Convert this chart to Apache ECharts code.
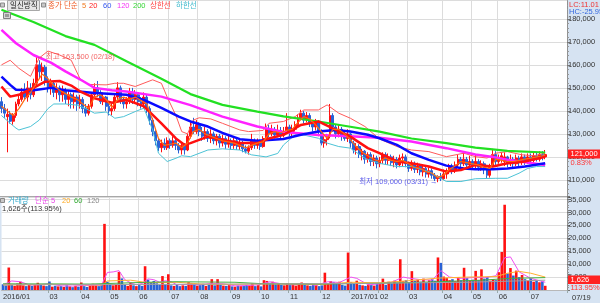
<!DOCTYPE html>
<html><head><meta charset="utf-8">
<script src="https://cdn.jsdelivr.net/npm/echarts@6/dist/echarts.min.js"></script>
<style>html,body{margin:0;padding:0;background:#d6e3f2;overflow:hidden}#c{width:600px;height:303px}</style>
</head><body><div id="c"></div>
<script>
// ---- categories (each slot = about two trading days) ----
const monthNames = ['2016/01','2016/02','2016/03','2016/04','2016/05','2016/06','2016/07','2016/08','2016/09','2016/10','2016/11','2016/12','2017/01','2017/02','2017/03','2017/04','2017/05','2017/06','2017/07'];
const monthTickLabels = ['2016/01','','03','04','05','06','07','08','09','10','11','12','2017/01','02','03','04','05','06','07'];
const monthSlots = [7,9,11,10,10,11,10,11,10,10,11,10,10,10,12,10,9,11,13];

// ---- price (thousand won) ----
const openP = [144,141,137.5,138.5,135.5,138,143,145,148,146, 150,147,152,160,157,159,153,150,152,148,
150,147,149,145,147,144,146,143,145,141, 139,142,147,150,148,144,146,142,140,141,
146,150,145,143,144,148,145,147,144,143, 146,141,136,131,127,124,126,124,127,125,
127,125,123,125,123,129,133,131,134,131, 129,131,128,130,127,129,126,128,125.5,127,
125,127,124.5,126,123.5,122.5,124,127,125,126.5, 124.5,128,132,130,132,129.5,131.5,129.5,131,133,
130.5,132,134,137,139,136,138,135,133,135, 131,126,127.5,129,138,133,130,132,129,128,
130,126,123,124.5,121,122.5,119,121,118,119.5, 117,118.5,121,118.5,120,117.5,119,116.5,119.5,120,
117,115,117,114.5,116,113.5,115,112.5,114,112, 110.5,111.5,110.5,112.5,114,116,114,116.5,119,117,
119,116.5,118,116,118,115.5,117,114.5,112,116, 121,118,119,118,120,117,119,117,119.5,117.5,
120,118,120,118.5,120.5,119,121,120];
const closeP = [141,139,138.5,135.5,138,143,145,148,146,150, 147,152,160,157,159,153,150,152,148,150,
147,149,145,147,144,146,143,145,141,139, 142,147,150,148,144,146,142,140,141,146,
150,145,143,144,148,145,147,144,143,146, 141,136,131,127,124,126,124,127,125,127,
125,123,125,123,129,133,131,134,131,129, 131,128,130,127,129,126,128,125.5,127,125,
127,124.5,126,123.5,122.5,124,127,125,126.5,124.5, 128,132,130,132,129.5,131.5,129.5,131,133,130.5,
132,134,137,139,136,138,135,133,135,131, 126,127.5,129,138,133,130,132,129,128,130,
126,123,124.5,121,122.5,119,121,118,119.5,117, 118.5,121,118.5,120,117.5,119,116.5,119.5,120,117,
115,117,114.5,116,113.5,115,112.5,114,112,110.5, 111.5,110.5,112.5,114,116,114,116.5,119,117,119,
116.5,118,116,118,115.5,117,114.5,112,116,121, 118,119,120.5,120,117,119,117,119.5,117.5,120,
118,120,118.5,120.5,119,121,120,121];
const highP = [146,143,141,140,139,144,147,150,152,153, 152,154,163.5,162,161,160,155,154,153,152,
151,151,150,149,148,148,147,147,146,143, 143,148,152,153,149,148,146.5,143.5,143,147,
152.5,151,146,146,150,150,149,148,146,148, 147,142,137,132,128,127.5,128,128.5,128,129,
128,126,126,126,130,135,137,136,135,133, 133,132,132,131,130,130,129.5,129,130,128,
129,128,128,127,125,125,130,128,128,127.5, 129,134.5,134,134,133,134,133,133,139,134,
134,135.5,138.5,140.5,140,139.5,139,136,136.5,136, 132,129,130,143,139,134,134,133,131,132,
130.5,127,126,125.5,123.5,123,122,122,121,120.5, 120,122,122,121.5,121,120.5,120,121,121.5,121,
118,118.5,118,117.5,117,116.5,116,115.5,115,113, 112,113,114.5,115,117,117,118,121,120,122,
120,120.5,119,121,119,118.5,118,115,117,123.5, 122.5,121,122,122,120.5,121,120,121,120.5,121.5,
121,121.5,121.5,122,122,122.5,122.5,123];
const lowP = [139,137,122,134.5,134,137,142,144,145,144, 145,146,151,154,153,151,148,147,146,145,
144,144,143,142,141,141,140,141,139,137.5, 138,141,146,146,143,142.5,140,138,138,140,
145,143,141,141,143,143,143,142,141,141, 139,134,129,125,122.5,122,123,123,123.5,124,
123,121.5,121,121,122.5,128,130,130,129,127, 127.5,126.5,126,125.5,125,124,124.5,123.5,124,123,
123.5,123,123,122,121.5,121,123,123.5,123.5,123, 124,127,128.5,129,128,128.5,128,128.5,130,129,
129,131,133,136,134.5,135,133,131,131.5,129, 125,124,125,128,131,128,128.5,127,127,126.5,
124,121.5,121,119.5,118.5,117,117.5,116,116,115, 115.5,117,116.5,116.5,116,115.5,115,115.5,116,115.5,
113.5,114,113,113,112,111.5,111,111,110.5,109.5, 109,109.5,110,110.5,112.5,112.5,113,115.5,115.5,116,
115,115,114.5,115,114,114,112.5,110.5,111,115.5, 116.5,117,117.5,116,115.5,116,115.5,116,116,116.5,
116.5,117,117,117.5,118,118,118.5,119];

// ---- price indicator lines: [slot, value] ----
const ma5 = [[0,142],[2,140],[4,138],[6,141],[8,145],[10,148],[12,152],[14,156],[16,154],[18,151],[20,149],[22,147.5],[24,146],[26,145],[28,143],[30,141],[32,146],[34,147],[36,145],[38,141.5],[40,145],[42,146],[44,145],[46,146],[48,144.5],[50,143],[52,136],[54,128],[56,125],[58,125.5],[60,126],[62,124],[64,126],[66,131],[68,132],[70,130],[72,129],[74,128],[76,127],[78,126.5],[80,126],[82,125],[84,124],[86,125],[88,126],[90,126.5],[92,130],[94,131],[96,130.5],[98,131.5],[100,132],[102,135],[104,137.5],[106,136.5],[108,134],[110,131],[112,128],[114,132],[116,132],[118,130],[120,127.5],[122,124.5],[124,122],[126,120.5],[128,119],[130,118],[132,119.5],[134,118.5],[136,118],[138,118.5],[140,117],[142,115.5],[144,115],[146,113.5],[148,113],[150,111],[152,112],[154,114.5],[156,116],[158,118],[160,117.5],[162,117],[164,116.5],[166,115.5],[168,115],[170,119],[172,118.5],[174,118],[176,118],[178,118.5],[180,119],[182,119.5],[184,120],[186,120.5],[187,120.8]];
const ma20 = [[0,150.6],[3,146.2],[6,147],[11,150],[15,152.7],[20,153],[24,151],[27,148.5],[32,145.5],[38,143.5],[43,144.8],[49,142],[55,134.6],[60,128],[63,125.2],[65,126],[71,128.8],[76,127.4],[82,126],[88,126],[92,128],[97,129.6],[103,133.9],[109,135.4],[115,131.7],[120,128.8],[126,123.8],[130,121.6],[136,118],[141,117.2],[147,115.8],[153,113.6],[158,114.3],[163,116.5],[169,115.8],[174,117.2],[180,118],[187,120.1]];
const ma60 = [[0,154.9],[3,151.3],[5,149.2],[11,149],[17,150],[22,149],[32,147.8],[43,147],[49,144.8],[55,141.3],[61,137.5],[65,135.4],[71,133.2],[76,130.4],[82,127.7],[88,127],[97,127.8],[103,129.6],[109,131],[115,131.7],[120,131],[126,129.6],[130,128.1],[136,125.2],[141,121.6],[147,118.7],[153,116.2],[159,115],[163,114.6],[169,114.6],[174,115],[180,115.8],[187,117.2]];
const ma120 = [[0,175.2],[5,169.4],[11,164.3],[17,161],[22,157.2],[28,153],[32,150],[38,149],[43,148.4],[55,146.2],[65,142.5],[76,137.5],[88,133.2],[97,130.8],[109,129.5],[120,129],[130,128.3],[141,126.7],[153,123.8],[163,121],[169,120],[174,118.8],[187,116.5]];
const ma200 = [[0,184],[11,178.6],[22,172.5],[32,168.7],[43,161.6],[55,154],[65,147.3],[76,142.6],[88,139.7],[97,137.6],[109,135.4],[120,133.1],[130,131],[141,128],[153,126],[163,124],[174,122.6],[187,121.9]];
const upperBand = [[0,160],[3,162],[6,158.5],[10,155],[13,163],[16,166],[20,164.3],[24,162],[27,154],[30,151.5],[36,151.3],[39,152],[42,152],[46,150.6],[52,153.5],[55,152],[57,146],[60,138],[62,131],[64,130],[66,136],[68,137],[72,136.5],[76,134.6],[82,131.7],[85,131],[90,131.5],[92,134.6],[97,135.4],[101,137.5],[104,140.4],[109,140.4],[112,142.6],[116,139],[120,136.8],[125,133.2],[130,127.8],[136,124.5],[141,123],[147,122.3],[153,120.1],[159,121.6],[163,120.1],[167,119.5],[170,121.6],[174,122.3],[179,120.9],[183,120.5],[187,121.6]];
const lowerBand = [[0,138],[3,134.6],[5,132.5],[6,131.7],[10,133.2],[13,136],[16,141],[18,143],[22,143],[26,142.5],[29,141],[32,139],[36,139.5],[39,136.8],[42,137.5],[46,139.7],[49,141.2],[52,131.7],[54,121.6],[57,118],[60,119.4],[62,120.5],[65,120.1],[71,123],[76,123.5],[82,123],[86,120.9],[91,120],[95,121.5],[97,125.2],[101,129.6],[104,129.5],[109,128.1],[112,126],[116,124.5],[120,123.8],[125,119.4],[130,117.2],[136,115.8],[141,115.8],[147,113.6],[153,109.3],[158,109.3],[163,110.5],[170,110.7],[174,110.7],[178,112.9],[181,115],[184,115.8],[187,115.8]];

// ---- volume (thousand shares) ----
const volume = [2.2,1.8,8.7,2.0,1.6,2.5,3.2,1.8,1.5,2.0, 1.6,1.9,2.8,2.2,1.7,1.5,3.3,1.3,1.6,1.4,
1.5,1.2,1.8,1.4,1.1,1.6,1.3,2.9,1.5,1.2, 1.7,2.4,1.8,1.5,1.9,25.6,3.2,2.5,1.8,2.2,
7.0,4.5,2.0,1.6,2.8,1.8,1.5,1.9,1.6,9.2, 4.0,3.0,3.5,2.6,2.0,5.4,2.2,6.1,1.8,1.6,
2.0,1.5,1.8,1.6,3.0,2.6,2.2,1.7,1.9,2.4, 1.6,2.0,4.2,1.8,4.2,2.0,1.7,1.6,1.9,1.4,
1.3,1.7,1.5,1.6,2.0,1.8,2.6,1.5,1.9,1.4, 3.8,3.5,2.8,3.2,2.2,2.6,2.0,1.8,2.6,1.9,
2.2,1.7,2.5,2.9,2.0,1.8,1.6,2.3,1.9,1.5, 1.8,6.7,2.6,3.4,3.0,2.4,3.2,2.0,1.7,14.5,
3.0,2.4,3.6,2.0,1.8,1.6,2.2,1.9,1.7,2.6, 2.4,4.4,2.0,3.2,2.6,3.6,2.8,11.9,3.4,3.8,
3.0,7.3,3.6,4.0,3.2,4.4,3.0,3.8,4.2,3.6, 12.6,10.5,5.2,4.6,3.8,4.2,3.4,5.0,3.8,8.6,
4.6,3.6,4.0,7.4,3.8,8.0,4.4,5.0,3.6,4.2, 3.8,6.9,14.7,33.0,6.4,8.5,5.6,7.5,5.0,5.8,
4.2,3.6,4.6,3.2,3.8,3.0,3.4,1.626];
const volMa5 = [[0,2.0],[3,3.5],[6,3.2],[9,2.0],[12,2.0],[16,2.4],[20,1.6],[24,1.5],[28,1.8],[32,1.8],[34,1.9],[36,6.8],[38,7.0],[40,7.5],[42,4.0],[44,2.8],[46,2.0],[48,2.5],[50,4.3],[52,4.0],[54,3.0],[56,3.6],[58,3.2],[60,2.0],[64,2.2],[68,2.0],[72,2.6],[76,2.4],[80,1.6],[84,1.7],[88,2.0],[92,3.2],[96,2.4],[100,2.0],[104,2.4],[108,1.8],[112,3.2],[116,2.9],[120,5.0],[122,4.5],[126,2.0],[130,2.4],[134,3.0],[138,5.0],[140,4.6],[144,4.0],[148,3.8],[151,7.5],[154,5.0],[158,4.5],[162,4.8],[166,4.8],[170,5.5],[173,12.5],[175,12.8],[178,7.0],[182,4.5],[187,3.0]];
const volMa20 = [[0,2.0],[20,2.2],[34,1.9],[36,3.5],[44,3.8],[50,2.8],[60,3.0],[70,2.2],[80,2.2],[90,2.4],[100,2.3],[110,2.2],[120,3.0],[130,2.8],[140,3.6],[150,4.6],[160,5.0],[170,5.2],[174,6.5],[178,7.2],[182,6.5],[187,5.0]];
const volMa60 = [[0,2.4],[30,2.3],[50,3.0],[60,3.2],[80,3.0],[90,2.4],[110,2.3],[130,2.6],[150,3.2],[165,3.8],[175,4.5],[187,4.8]];
const volMa120 = [[0,2.0],[60,2.2],[120,2.5],[160,3.0],[187,3.8]];

// ---- build ----
const categories = [], tickLabelAt = {};
let slot = 0;
monthNames.forEach((m, mi) => {
  if (monthTickLabels[mi]) tickLabelAt[slot] = monthTickLabels[mi];
  for (let k = 0; k < monthSlots[mi]; k++) { categories.push(m + '.' + (k + 1)); slot++; }
});
const isTick = i => tickLabelAt[i] !== undefined;
const isGrid = i => i > 0 && isTick(i);
const UP = '#ff1111', DOWN = '#2a62d6';
const candles = openP.map((o, i) => [o, closeP[i], lowP[i], highP[i]]);
const volBars = volume.map((v, i) => ({ value: v, itemStyle: { color: closeP[i] >= openP[i] ? UP : DOWN } }));
const FONT = "'Liberation Sans','Noto Sans CJK KR',sans-serif";
const FS = 7.5;
const gridLine = { show: true, lineStyle: { color: '#dcdcdc', width: 1 } };

function line(name, data, color, width, xi, z) {
  return { name, type: 'line', data, xAxisIndex: xi, yAxisIndex: xi, showSymbol: false, symbol: 'none',
    lineStyle: { color, width }, z: z || 3, silent: true };
}
function txt(x, y, text, color, extra) {
  return Object.assign({ type: 'text', x, y, z: 100, style: { text, fill: color, font: FS + 'px ' + FONT, verticalAlign: 'middle' } }, extra || {});
}

const chart = echarts.init(document.getElementById('c'), null, { renderer: 'canvas' });
chart.setOption({
  animation: false,
  backgroundColor: '#d6e3f2',
  textStyle: { fontFamily: FONT },
  grid: [
    { left: 0, right: 33, top: 0, height: 196, show: true, backgroundColor: '#fff', borderWidth: 0 },
    { left: 0, right: 33, top: 197, height: 93, show: true, backgroundColor: '#fff', borderWidth: 0 }
  ],
  xAxis: [
    { type: 'category', gridIndex: 0, data: categories, boundaryGap: true,
      axisLine: { show: true, lineStyle: { color: '#a8a8a8', width: 1 } }, axisTick: { show: false },
      axisLabel: { show: false }, splitLine: Object.assign({ interval: isGrid }, gridLine) },
    { type: 'category', gridIndex: 1, data: categories, boundaryGap: true,
      axisLine: { show: true, lineStyle: { color: '#b8b8b8' } },
      axisTick: { show: true, interval: isGrid, length: 3, lineStyle: { color: '#9aa' } },
      axisLabel: { show: true, interval: isTick, formatter: (v, i) => tickLabelAt[i] || '', align: 'left',
        color: '#333', fontSize: FS, margin: 3, fontFamily: FONT },
      splitLine: Object.assign({ interval: isGrid }, gridLine) }
  ],
  yAxis: [
    { type: 'value', gridIndex: 0, position: 'right', min: 103, max: 188.2, splitNumber: 8, scale: true,
      axisLine: { show: true, lineStyle: { color: '#909090' } },
      axisTick: { show: true, length: 3, lineStyle: { color: '#777' } },
      minorTick: { show: true, splitNumber: 5, length: 2, lineStyle: { color: '#999' } },
      axisLabel: { show: true, showMinLabel: false, showMaxLabel: false, margin: 1, color: '#333', fontSize: FS,
        fontFamily: FONT, formatter: v => v + ',000' },
      splitLine: gridLine },
    { type: 'value', gridIndex: 1, position: 'right', min: 0, max: 36, interval: 5,
      axisLine: { show: true, lineStyle: { color: '#909090' } },
      axisTick: { show: true, length: 3, lineStyle: { color: '#777' } },
      minorTick: { show: true, splitNumber: 5, length: 2, lineStyle: { color: '#999' } },
      axisLabel: { show: true, showMaxLabel: false, margin: 1, color: '#333', fontSize: FS, fontFamily: FONT,
        formatter: v => v === 0 ? '' : v + ',000' },
      splitLine: gridLine }
  ],
  series: [
    { name: 'candle', type: 'candlestick', data: candles, xAxisIndex: 0, yAxisIndex: 0, barWidth: 2.4, z: 2,
      itemStyle: { color: UP, color0: DOWN, borderColor: UP, borderColor0: DOWN, borderWidth: 1 } },
    line('상한선', upperBand, '#ff5a5a', 1, 0),
    line('하한선', lowerBand, '#4cc3d6', 1, 0),
    line('200', ma200, '#22e022', 2.2, 0),
    line('120', ma120, '#ff22ff', 2.5, 0),
    line('60', ma60, '#0a0aff', 2.5, 0),
    line('20', ma20, '#ff1010', 2.5, 0, 4),
    line('5', ma5, '#ff6a10', 1.2, 0, 4),
    { type: 'scatter', xAxisIndex: 0, yAxisIndex: 0, data: [[12, 163.5]], symbolSize: 0, z: 6, silent: true,
      label: { show: true, position: 'right', distance: 0, formatter: '← 최고 163,500 (02/18)', color: '#f03a3a', fontSize: FS, fontFamily: FONT } },
    { type: 'scatter', xAxisIndex: 0, yAxisIndex: 0, data: [[150, 109]], symbolSize: 0, z: 6, silent: true,
      label: { show: true, position: 'left', distance: 0, formatter: '최저 109,000 (03/31) →', color: '#3535e6', fontSize: FS, fontFamily: FONT } },
    { name: 'volume', type: 'bar', data: volBars, xAxisIndex: 1, yAxisIndex: 1, barWidth: 2.6, z: 2 },
    line('v5', volMa5, '#f050f0', 1, 1),
    line('v20', volMa20, '#ffb030', 1, 1),
    line('v60', volMa60, '#44b044', 1, 1),
    line('v120', volMa120, '#a0a0a0', 1, 1)
  ],
  graphic: [
    { type: 'rect', z: 100, shape: { x: 0.5, y: 3, width: 4, height: 4 }, style: { fill: '#c8c8c8', stroke: '#8a8a8a', lineWidth: 1 } },
    { type: 'rect', z: 100, shape: { x: 7.5, y: 0.5, width: 32, height: 10 }, style: { fill: '#e6e6e6', stroke: '#a8a8a8', lineWidth: 1 } },
    txt(10, 6, '일신방직', '#222'),
    { type: 'rect', z: 100, shape: { x: 41.5, y: 3, width: 4, height: 4 }, style: { fill: '#c8c8c8', stroke: '#8a8a8a', lineWidth: 1 } },
    txt(48, 6, '종가 단순', '#ee5a24'),
    txt(82, 6, '5', '#f07a20'),
    txt(89, 6, '20', '#ff2020'),
    txt(103, 6, '60', '#3355ee'),
    txt(117, 6, '120', '#f436f4'),
    txt(133, 6, '200', '#33d633'),
    txt(150, 6, '상한선', '#ff4444'),
    txt(176, 6, '하한선', '#3ab8cc'),
    { type: 'rect', z: 100, shape: { x: 3.5, y: 12.5, width: 7, height: 6 }, style: { fill: '#d4d4d4', stroke: '#808080', lineWidth: 1 } },
    { type: 'rect', z: 101, shape: { x: 5, y: 14, width: 4, height: 3 }, style: { fill: '#9a9a9a' } },
    { type: 'rect', z: 100, shape: { x: 0.5, y: 198.5, width: 4, height: 4 }, style: { fill: '#c8c8c8', stroke: '#8a8a8a', lineWidth: 1 } },
    txt(8, 200.5, '거래량', '#33aacc'),
    txt(35, 200.5, '단순 5', '#e844e8'),
    txt(62, 200.5, '20', '#ffaa22'),
    txt(74, 200.5, '60', '#33aa33'),
    txt(87, 200.5, '120', '#888888'),
    txt(2, 209, '1,626주(113.95%)', '#333'),
    { type: 'rect', z: 99, shape: { x: 568, y: 0, width: 32, height: 16 }, style: { fill: '#d6e3f2' } },
    txt(569, 4.5, 'LC:11.01', '#ee3333'),
    txt(569, 12, 'HC:-25.95', '#3366dd'),
    { type: 'rect', z: 100, shape: { x: 568, y: 149.5, width: 32, height: 9 }, style: { fill: '#ff2222' } },
    txt(570.5, 154.2, '121,000', '#ffffff'),
    txt(570.5, 162.5, '0.83%', '#ff3333'),
    { type: 'rect', z: 100, shape: { x: 568, y: 275.5, width: 32, height: 8.5 }, style: { fill: '#ff2222' } },
    txt(570.5, 280, '1,626', '#ffffff'),
    txt(570.5, 287.8, '113.95%', '#ff3333'),
    txt(572, 297.5, '07/19', '#333')
  ]
});
</script></body></html>
